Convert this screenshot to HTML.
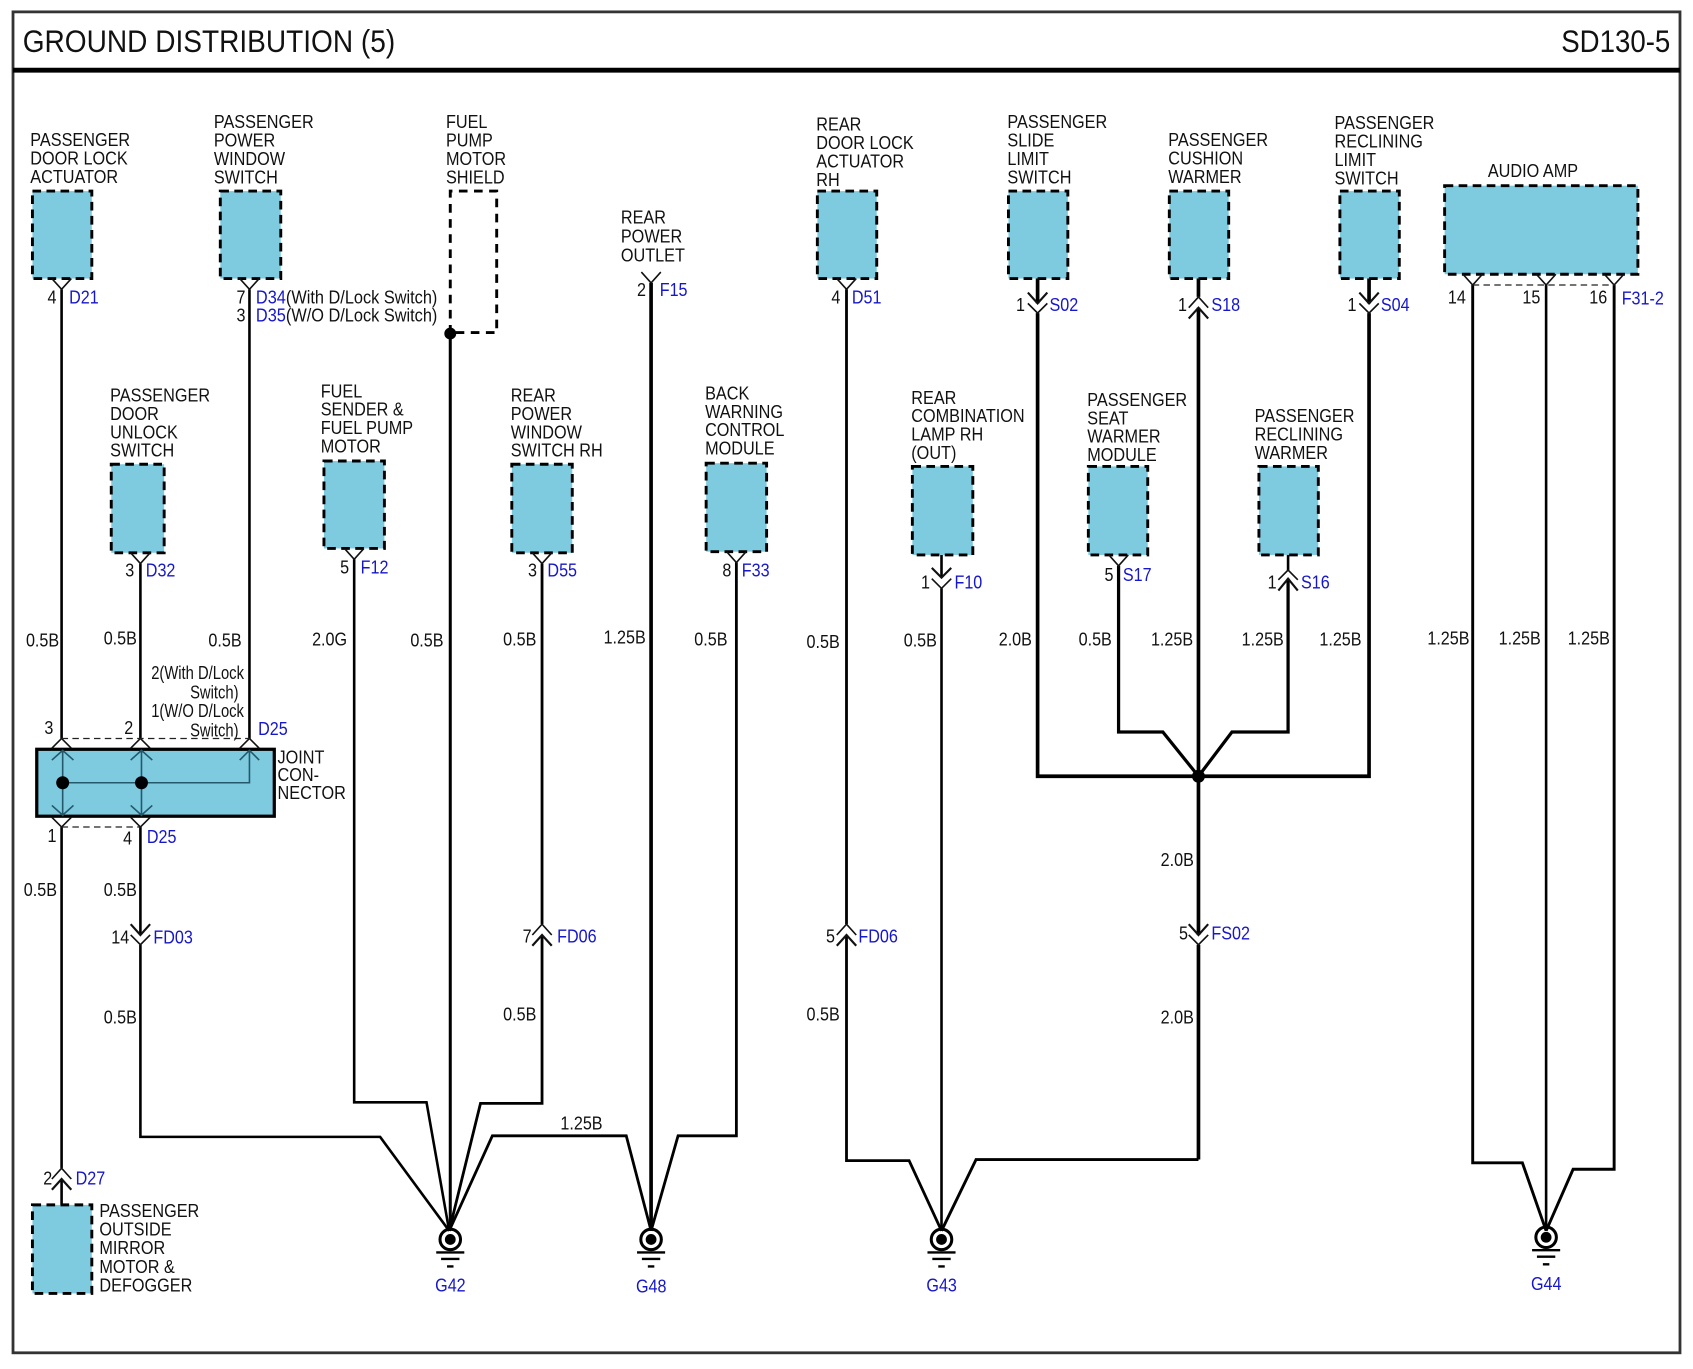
<!DOCTYPE html>
<html><head><meta charset="utf-8"><title>Ground Distribution (5)</title>
<style>
html,body{margin:0;padding:0;background:#fff}
svg{display:block}
text{font-family:"Liberation Sans",sans-serif;font-size:17px;fill:#111}
.b{fill:#1616cc}
.box{fill:#7ecbe0;stroke:#000;stroke-width:2.7;stroke-dasharray:8 5}
.w{fill:none;stroke:#000;stroke-width:2.4;stroke-linejoin:miter}
.t{fill:none;stroke:#000;stroke-width:3.4}
.c{fill:none;stroke:#111;stroke-width:1.5}
.d{fill:none;stroke:#222;stroke-width:1.2;stroke-dasharray:6 4}
</style></head><body>
<svg xmlns="http://www.w3.org/2000/svg" width="1693" height="1369" viewBox="0 0 1568 1268">
<rect x="0" y="0" width="1568" height="1268" fill="#fff"/>
<rect x="12" y="11" width="1544" height="1242" fill="none" stroke="#333" stroke-width="2.6"/>
<line x1="12" y1="65" x2="1556" y2="65" stroke="#000" stroke-width="4.6"/>
<text x="21" y="48" style="font-size:29px" textLength="345" lengthAdjust="spacingAndGlyphs">GROUND DISTRIBUTION (5)</text>
<text x="1446" y="48" style="font-size:29px" textLength="101" lengthAdjust="spacingAndGlyphs">SD130-5</text>

<!-- boxes -->
<rect class="box" x="30" y="177" width="55" height="81"/>
<rect class="box" x="204" y="177" width="56" height="81"/>
<path d="M417 309V177H460V308H417" fill="none" stroke="#000" stroke-width="2.7" stroke-dasharray="8 6"/>
<rect class="box" x="757" y="177" width="55" height="81"/>
<rect class="box" x="934" y="177" width="55" height="81"/>
<rect class="box" x="1083" y="177" width="55" height="81"/>
<rect class="box" x="1241" y="177" width="55" height="81"/>
<rect class="box" x="1338" y="172" width="179" height="82"/>
<rect class="box" x="103" y="430" width="49" height="82"/>
<rect class="box" x="300" y="427" width="56" height="81"/>
<rect class="box" x="474" y="430" width="56" height="82"/>
<rect class="box" x="654" y="429" width="56" height="82"/>
<rect class="box" x="845" y="432" width="56" height="82"/>
<rect class="box" x="1008" y="432" width="55" height="82"/>
<rect class="box" x="1166" y="432" width="55" height="82"/>
<rect class="box" x="30" y="1116" width="55" height="82"/>
<rect x="34" y="694" width="220" height="62" fill="#7ecbe0" stroke="#000" stroke-width="3"/>

<!-- wires -->
<path class="w" d="M57 268V684M57 766V1082M57 1092V1116"/>
<path class="w" d="M231 268V684"/>
<path class="w" d="M130 522V684M130 766V866M130 875V1053H352L416 1140"/>
<path class="t" d="M417 309V1140" style="stroke-width:2.800"/>
<path class="w" d="M328 518V1021H395L416 1140"/>
<path class="w" d="M502 522V856M502 866V1022H445L416 1140" style="stroke-width:2.600"/>
<path class="w" d="M416 1140L456 1052H580L603 1140" style="stroke-width:2.600"/>
<path class="t" d="M603 262V1140" style="stroke-width:3.400"/>
<path class="w" d="M682 521V1052H628L603 1140" style="stroke-width:2.600"/>
<path class="w" d="M784 268V856M784 866V1075H842L872 1140" style="stroke-width:2.600"/>
<path class="w" d="M872 514V535M872 545V1140"/>
<path class="t" d="M961 258V281M961 290V719H1268V290M1268 281V258"/>
<path class="t" d="M1110 275V258M1110 285V866M1110 875V1074"/>
<path class="w" d="M1110 1074H904L872 1140" style="stroke-width:2.700"/>
<path class="w" d="M1036 524V678H1077L1110 719" style="stroke-width:3"/>
<path class="w" d="M1193 514V528"/>
<path class="w" d="M1193 536V678H1141L1110 719" style="stroke-width:3"/>
<path class="w" d="M1364 264V1077H1410L1432 1140M1495 264V1083H1457L1432 1140" style="stroke-width:2.700"/>
<path class="w" d="M1432 264V1140"/>
<circle cx="417" cy="309" r="5.500" fill="#000"/>
<circle cx="1110" cy="719" r="6" fill="#000"/>

<!-- Y connectors -->
<path class="c" d="M48 258L57 268L66 258M222 258L231 268L240 258M594 252L603 262L612 252M775 258L784 268L793 258M121 512L130 522L139 512M319 508L328 518L337 508M493 512L502 522L511 512M673 511L682 521L691 511M1027 514L1036 524L1045 514M1355 254L1364 264L1373 254M1423 254L1432 264L1441 254M1486 254L1495 264L1504 254"/>
<line class="d" x1="1364" y1="264" x2="1495" y2="264"/>
<!-- double chevrons down -->
<path class="c" style="stroke-width:2" d="M952 271L961 281L970 271M1259 271L1268 281L1277 271M863 526L872 535L881 526M121 856L130 866L139 856M1101 856L1110 866L1119 856"/>
<path class="c" d="M952 281L961 290L970 281M1259 281L1268 290L1277 281M863 536L872 545L881 536M121 866L130 875L139 866M1101 866L1110 875L1119 866"/>
<!-- double chevrons up -->
<path class="c" d="M1101 285L1110 275L1119 285M1184 537L1193 528L1202 537M493 866L502 856L511 866M775 866L784 856L793 866M48 1092L57 1082L66 1092"/>
<path class="c" style="stroke-width:2" d="M1101 295L1110 285L1119 295M1184 547L1193 536L1202 547M493 876L502 866L511 876M775 876L784 866L793 876M48 1102L57 1092L66 1102"/>

<!-- joint connector -->
<path class="c" d="M48 693L57 684L66 693M121 693L130 684L139 693M222 693L231 684L240 693M48 757L57 766L66 757M121 757L130 766L139 757"/>
<line class="d" x1="57" y1="684" x2="231" y2="684"/>
<line class="d" x1="57" y1="766" x2="130" y2="766"/>
<path d="M58 695V756M131 695V756M58 725H231V695M48 704L58 695L68 704M121 704L131 695L141 704M222 704L231 695L240 704M48 746L58 755L68 746M121 746L131 755L141 746" fill="none" stroke="#23596b" stroke-width="1.500"/>
<circle cx="58" cy="725" r="6" fill="#000"/>
<circle cx="131" cy="725" r="6" fill="#000"/>

<!-- grounds -->
<g fill="none" stroke="#000">
<circle cx="417" cy="1148" r="9.500" stroke-width="2.800"/>
<circle cx="603" cy="1148" r="9.500" stroke-width="2.800"/>
<circle cx="872" cy="1148" r="9.500" stroke-width="2.800"/>
<circle cx="1432" cy="1146" r="9.500" stroke-width="2.800"/>
<path stroke-width="2.200" d="M404 1160H430M408.500 1166H425.500M414 1173H420M590 1160H616M594.500 1166H611.500M600 1173H606M859 1160H885M863.500 1166H880.500M869 1173H875M1419 1158H1445M1423.500 1164H1440.500M1429 1171H1435"/>
</g>
<circle cx="417" cy="1148" r="5" fill="#000"/><circle cx="603" cy="1148" r="5" fill="#000"/><circle cx="872" cy="1148" r="5" fill="#000"/><circle cx="1432" cy="1146" r="5" fill="#000"/>

<!-- component labels -->
<text transform="matrix(.885 0 0 1 28 135)">PASSENGER<tspan x="0" dy="17.300">DOOR LOCK</tspan><tspan x="0" dy="17.300">ACTUATOR</tspan></text>
<text transform="matrix(.885 0 0 1 198 118.500)">PASSENGER<tspan x="0" dy="17.100">POWER</tspan><tspan x="0" dy="17.100">WINDOW</tspan><tspan x="0" dy="17.100">SWITCH</tspan></text>
<text transform="matrix(.885 0 0 1 413 118.500)">FUEL<tspan x="0" dy="17.100">PUMP</tspan><tspan x="0" dy="17.100">MOTOR</tspan><tspan x="0" dy="17.100">SHIELD</tspan></text>
<text transform="matrix(.885 0 0 1 575 207)">REAR<tspan x="0" dy="17.500">POWER</tspan><tspan x="0" dy="17.500">OUTLET</tspan></text>
<text transform="matrix(.885 0 0 1 756 121)">REAR<tspan x="0" dy="17.100">DOOR LOCK</tspan><tspan x="0" dy="17.100">ACTUATOR</tspan><tspan x="0" dy="17.100">RH</tspan></text>
<text transform="matrix(.885 0 0 1 933 118.500)">PASSENGER<tspan x="0" dy="17.100">SLIDE</tspan><tspan x="0" dy="17.100">LIMIT</tspan><tspan x="0" dy="17.100">SWITCH</tspan></text>
<text transform="matrix(.885 0 0 1 1082 135)">PASSENGER<tspan x="0" dy="17.300">CUSHION</tspan><tspan x="0" dy="17.300">WARMER</tspan></text>
<text transform="matrix(.885 0 0 1 1236 119.500)">PASSENGER<tspan x="0" dy="17.100">RECLINING</tspan><tspan x="0" dy="17.100">LIMIT</tspan><tspan x="0" dy="17.100">SWITCH</tspan></text>
<text transform="matrix(.885 0 0 1 1378 164)">AUDIO AMP</text>
<text transform="matrix(.885 0 0 1 102 372)">PASSENGER<tspan x="0" dy="17">DOOR</tspan><tspan x="0" dy="17">UNLOCK</tspan><tspan x="0" dy="17">SWITCH</tspan></text>
<text transform="matrix(.885 0 0 1 297 368)">FUEL<tspan x="0" dy="17">SENDER &amp;</tspan><tspan x="0" dy="17">FUEL PUMP</tspan><tspan x="0" dy="17">MOTOR</tspan></text>
<text transform="matrix(.885 0 0 1 473 372)">REAR<tspan x="0" dy="17">POWER</tspan><tspan x="0" dy="17">WINDOW</tspan><tspan x="0" dy="17">SWITCH RH</tspan></text>
<text transform="matrix(.885 0 0 1 653 370)">BACK<tspan x="0" dy="17">WARNING</tspan><tspan x="0" dy="17">CONTROL</tspan><tspan x="0" dy="17">MODULE</tspan></text>
<text transform="matrix(.885 0 0 1 844 374)">REAR<tspan x="0" dy="17.100">COMBINATION</tspan><tspan x="0" dy="17.100">LAMP RH</tspan><tspan x="0" dy="17.100">(OUT)</tspan></text>
<text transform="matrix(.885 0 0 1 1007 376)">PASSENGER<tspan x="0" dy="17">SEAT</tspan><tspan x="0" dy="17">WARMER</tspan><tspan x="0" dy="17">MODULE</tspan></text>
<text transform="matrix(.885 0 0 1 1162 391)">PASSENGER<tspan x="0" dy="17">RECLINING</tspan><tspan x="0" dy="17">WARMER</tspan></text>
<text transform="matrix(.885 0 0 1 257 707)">JOINT<tspan x="0" dy="16.500">CON-</tspan><tspan x="0" dy="16.500">NECTOR</tspan></text>
<text transform="matrix(.885 0 0 1 92 1127)">PASSENGER<tspan x="0" dy="17.300">OUTSIDE</tspan><tspan x="0" dy="17.300">MIRROR</tspan><tspan x="0" dy="17.300">MOTOR &amp;</tspan><tspan x="0" dy="17.300">DEFOGGER</tspan></text>

<!-- pins and connector ids -->
<g>
<text transform="matrix(.88 0 0 1 44 281)">4</text><text class="b" transform="matrix(.88 0 0 1 64 281)">D21</text>
<text transform="matrix(.88 0 0 1 219 281)">7</text><text transform="matrix(.89 0 0 1 237 281)"><tspan class="b">D34</tspan>(With D/Lock Switch)</text>
<text transform="matrix(.88 0 0 1 219 298)">3</text><text transform="matrix(.89 0 0 1 237 298)"><tspan class="b">D35</tspan>(W/O D/Lock Switch)</text>
<text transform="matrix(.88 0 0 1 590 274)">2</text><text class="b" transform="matrix(.88 0 0 1 611 274)">F15</text>
<text transform="matrix(.88 0 0 1 770 281)">4</text><text class="b" transform="matrix(.88 0 0 1 789 281)">D51</text>
<text transform="matrix(.88 0 0 1 941 288)">1</text><text class="b" transform="matrix(.88 0 0 1 972 288)">S02</text>
<text transform="matrix(.88 0 0 1 1091 288)">1</text><text class="b" transform="matrix(.88 0 0 1 1122 288)">S18</text>
<text transform="matrix(.88 0 0 1 1248 288)">1</text><text class="b" transform="matrix(.88 0 0 1 1279 288)">S04</text>
<text transform="matrix(.88 0 0 1 1341 281)">14</text><text transform="matrix(.88 0 0 1 1410 281)">15</text><text transform="matrix(.88 0 0 1 1472 281)">16</text><text class="b" transform="matrix(.88 0 0 1 1502 282)">F31-2</text>
<text transform="matrix(.88 0 0 1 116 534)">3</text><text class="b" transform="matrix(.88 0 0 1 135 534)">D32</text>
<text transform="matrix(.88 0 0 1 315 531)">5</text><text class="b" transform="matrix(.88 0 0 1 334 531)">F12</text>
<text transform="matrix(.88 0 0 1 489 534)">3</text><text class="b" transform="matrix(.88 0 0 1 507 534)">D55</text>
<text transform="matrix(.88 0 0 1 669 534)">8</text><text class="b" transform="matrix(.88 0 0 1 687 534)">F33</text>
<text transform="matrix(.88 0 0 1 853 545)">1</text><text class="b" transform="matrix(.88 0 0 1 884 545)">F10</text>
<text transform="matrix(.88 0 0 1 1023 538)">5</text><text class="b" transform="matrix(.88 0 0 1 1040 538)">S17</text>
<text transform="matrix(.88 0 0 1 1174 545)">1</text><text class="b" transform="matrix(.88 0 0 1 1205 545)">S16</text>
<text transform="matrix(.88 0 0 1 41 680)">3</text><text transform="matrix(.88 0 0 1 115 680)">2</text><text class="b" transform="matrix(.88 0 0 1 239 681)">D25</text>
<text transform="matrix(.88 0 0 1 44 780)">1</text><text transform="matrix(.88 0 0 1 114 782)">4</text><text class="b" transform="matrix(.88 0 0 1 136 781)">D25</text>
<text transform="matrix(.88 0 0 1 103 874)">14</text><text class="b" transform="matrix(.88 0 0 1 142 874)">FD03</text>
<text transform="matrix(.88 0 0 1 484 873)">7</text><text class="b" transform="matrix(.88 0 0 1 516 873)">FD06</text>
<text transform="matrix(.88 0 0 1 765 873)">5</text><text class="b" transform="matrix(.88 0 0 1 795 873)">FD06</text>
<text transform="matrix(.88 0 0 1 1092 870)">5</text><text class="b" transform="matrix(.88 0 0 1 1122 870)">FS02</text>
<text transform="matrix(.88 0 0 1 40 1097)">2</text><text class="b" transform="matrix(.88 0 0 1 70 1097)">D27</text>
<text class="b" transform="matrix(.88 0 0 1 403 1196)">G42</text>
<text class="b" transform="matrix(.88 0 0 1 589 1197)">G48</text>
<text class="b" transform="matrix(.88 0 0 1 858 1196)">G43</text>
<text class="b" transform="matrix(.88 0 0 1 1418 1195)">G44</text>
<text transform="matrix(.805 0 0 1 140 629)">2(With D/Lock</text>
<text transform="matrix(.805 0 0 1 176 647)">Switch)</text>
<text transform="matrix(.805 0 0 1 140 664)">1(W/O D/Lock</text>
<text transform="matrix(.805 0 0 1 176 682)">Switch)</text>
</g>

<!-- wire sizes -->
<g>
<text transform="matrix(.88 0 0 1 24 599)">0.5B</text>
<text transform="matrix(.88 0 0 1 96 597)">0.5B</text>
<text transform="matrix(.88 0 0 1 193 599)">0.5B</text>
<text transform="matrix(.88 0 0 1 289 598)">2.0G</text>
<text transform="matrix(.88 0 0 1 380 599)">0.5B</text>
<text transform="matrix(.88 0 0 1 466 598)">0.5B</text>
<text transform="matrix(.88 0 0 1 559 596)">1.25B</text>
<text transform="matrix(.88 0 0 1 643 598)">0.5B</text>
<text transform="matrix(.88 0 0 1 747 600)">0.5B</text>
<text transform="matrix(.88 0 0 1 837 599)">0.5B</text>
<text transform="matrix(.88 0 0 1 925 598)">2.0B</text>
<text transform="matrix(.88 0 0 1 999 598)">0.5B</text>
<text transform="matrix(.88 0 0 1 1066 598)">1.25B</text>
<text transform="matrix(.88 0 0 1 1150 598)">1.25B</text>
<text transform="matrix(.88 0 0 1 1222 598)">1.25B</text>
<text transform="matrix(.88 0 0 1 1322 597)">1.25B</text>
<text transform="matrix(.88 0 0 1 1388 597)">1.25B</text>
<text transform="matrix(.88 0 0 1 1452 597)">1.25B</text>
<text transform="matrix(.88 0 0 1 22 830)">0.5B</text>
<text transform="matrix(.88 0 0 1 96 830)">0.5B</text>
<text transform="matrix(.88 0 0 1 96 948)">0.5B</text>
<text transform="matrix(.88 0 0 1 466 945)">0.5B</text>
<text transform="matrix(.88 0 0 1 747 945)">0.5B</text>
<text transform="matrix(.88 0 0 1 1075 802)">2.0B</text>
<text transform="matrix(.88 0 0 1 1075 948)">2.0B</text>
<text transform="matrix(.88 0 0 1 519 1046)">1.25B</text>
</g>
</svg>
</body></html>
